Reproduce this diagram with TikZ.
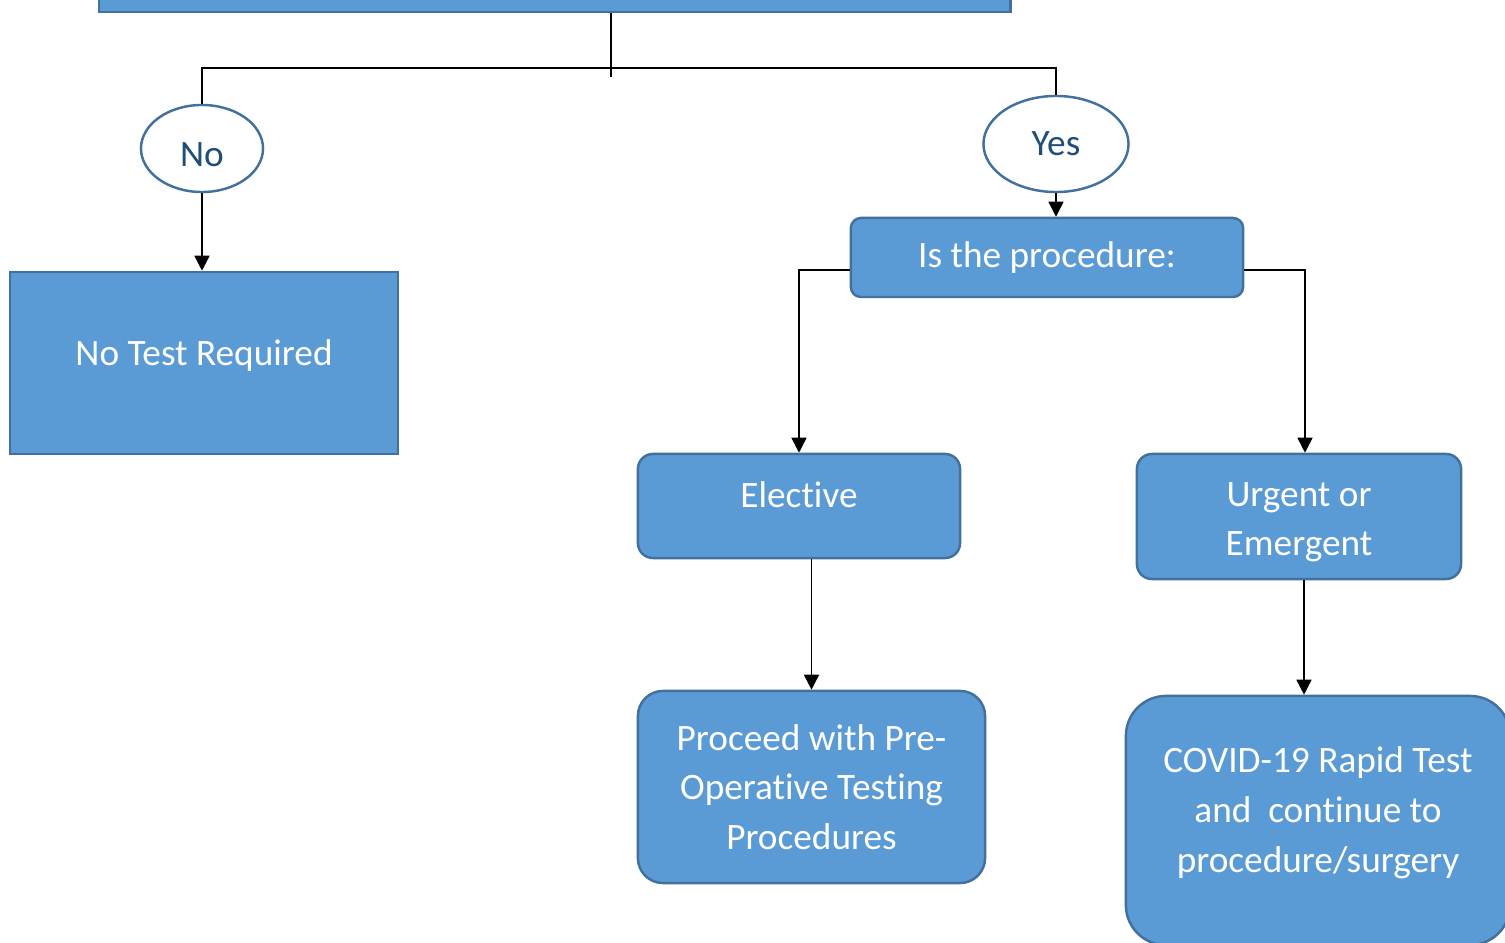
\documentclass[tikz,border=0pt]{standalone}
\usepackage{fontspec}
\setmainfont{Carlito}[Ligatures=NoCommon]
\usepackage{xcolor}
\usetikzlibrary{positioning,arrows.meta,shapes.geometric,calc}
\definecolor{boxfill}{HTML}{5B9BD5}
\definecolor{boxline}{HTML}{41719C}
\definecolor{ovaltext}{HTML}{1F4E79}
\newcommand{\pushdown}[1]{\rule{0pt}{#1}}

\begin{document}
\begin{tikzpicture}[x=0.01cm, y=-0.01cm, font=\fontsize{10.6}{14.1}\selectfont,
  box/.style={draw=boxline, line width=0.7pt, fill=boxfill, text=white, align=center, inner sep=0pt},
  oval/.style={ellipse, draw=boxline, line width=0.7pt, fill=white, text=ovaltext, inner sep=0pt},
  lift/.style={text depth=#1},
  link/.style={line width=0.45pt},
  arr/.style={link, -{Triangle[width=0.15cm, length=0.15cm]}}]
  \useasboundingbox (0,0) rectangle (1505,943);
  \clip (0,0) rectangle (1505,943);

  % Question box (cut at the top)
  \node[box, minimum width=9.11cm, minimum height=0.84cm] (question) at (554.5, -30) {};
  \coordinate (split) at (611, 77);
  \coordinate (bar) at (611, 68);

  % Answers
  \node[oval, minimum width=1.22cm, minimum height=0.87cm] (no) at (202, 148.5) {\pushdown{0.37cm}No};
  \node[oval, minimum width=1.45cm, minimum height=0.96cm] (yes) at (1056, 144) {Yes};

  % Outcomes
  \node[box, lift=0.21cm, minimum width=3.88cm, minimum height=1.82cm] (notest) at (204, 363) {No Test Required};
  \node[box, rounded corners=0.1cm, minimum width=3.92cm, minimum height=0.79cm] (proc) at (1047, 257.5) {Is the procedure:};
  \node[box, lift=0.22cm, rounded corners=0.15cm, minimum width=3.22cm, minimum height=1.04cm] (elect) at (799, 506) {Elective};
  \node[box, rounded corners=0.15cm, minimum width=3.24cm, minimum height=1.25cm] (urgent) at (1299, 516.5) {\pushdown{0.35cm}Urgent or\\Emergent};
  \node[box, rounded corners=0.25cm, minimum width=3.47cm, minimum height=1.92cm] (preop) at (811.5, 787) {Proceed with Pre-\\Operative Testing\\Procedures};
  \node[box, lift=0.22cm, rounded corners=0.4cm, minimum width=3.84cm, minimum height=2.49cm] (covid) at (1318, 820.5) {COVID-19 Rapid Test\\and\ \ continue to\\procedure/surgery};

  % Branch lines
  \draw[link] (question.south -| split) -- (split);
  \draw[link] (no.north) -- (no.north |- bar) -- (yes.north |- bar) -- (yes.north);
  \draw[arr] (no.south) -- (no.south |- notest.north);
  \draw[arr] (yes.south) -- (yes.south |- proc.north);

  % Procedure type
  \draw[arr] ($(proc.west)+(0,12.5)$) -| (elect.north);
  \draw[arr] ($(proc.east)+(0,12.5)$) -| ($(urgent.north)+(6,0)$);
  \draw[arr] (elect.south -| preop.north) -- (preop.north);
  \coordinate (drop) at ($(urgent.south)+(5,0)$);
  \draw[arr] (drop) -- (drop |- covid.north);
\end{tikzpicture}
\end{document}
